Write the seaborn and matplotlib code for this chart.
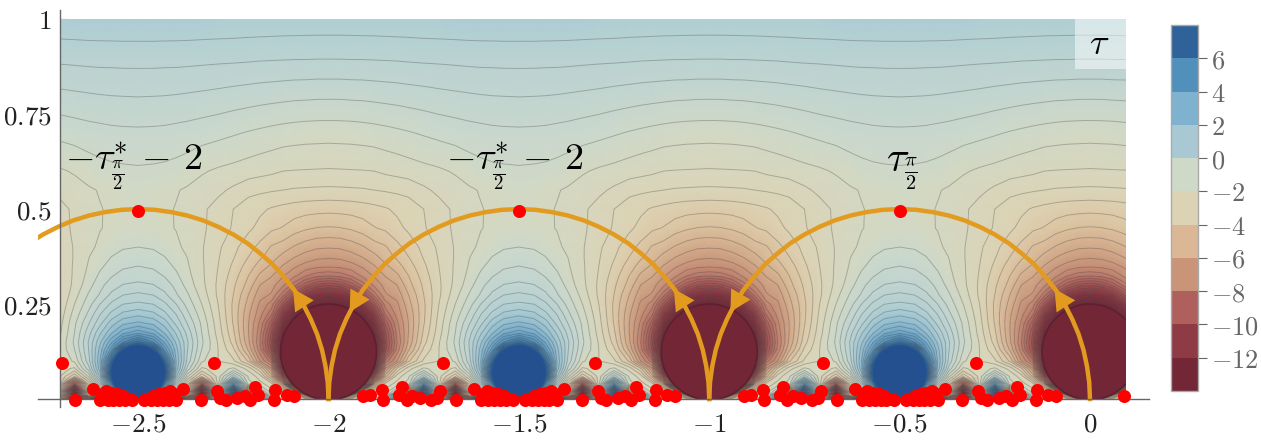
#!/usr/bin/env python3
"""Contour map of tau on the upper half plane, with the geodesic arcs and the red points."""

import numpy as np
import matplotlib
matplotlib.use('Agg')
import matplotlib.pyplot as plt
from matplotlib.colors import LinearSegmentedColormap, ListedColormap, BoundaryNorm, Normalize
from matplotlib.colorbar import ColorbarBase
from matplotlib.patches import Circle, Rectangle
import seaborn as sns

# field, one half period: columns are the distance to the nearest integer
dist_cols = [0, .03, .06, .09, .12, .15, .18, .21, .25, .29, .333, .37, .4, .43, .46, .5]
y_rows = [0, .01, .02, .04, .06, .08, .1, .13, .15, .175, .2, .225, .25, .275, .3, .325,
          .35, .375, .4, .45, .5, .55, .6, .7, .8, .9, 1]
field_rows = [
    [-14.5, -5, -3, -2, -2, -2, 5, -14, 9, -5, -14.5, -8, -14, -3, -2, 9],
    [-14.5, -14.5, -5.6, -2.1, -2, -1.9, 3, -9, 9, -3, -14.5, -3, -5, -1, 4, 9],
    [-14.5, -14.5, -14.5, -4.56, -2.1, -1.9, -.5, -5, 9, -1.7, -14.5, -2.1, -1.5, .68, 9, 9],
    [-14.5, -14.5, -14.5, -14.5, -4.98, -2.4, -1.93, -1.4, 4.25, -1.8, -8, -3, .1, 4.7, 9, 9],
    [-14.5, -14.5, -14.5, -14.5, -8.93, -4.3, -2.36, -1.7, .25, -1.89, -3.5, -1.48, 1.55, 8, 9, 9],
    [-14.5, -14.5, -14.5, -14.5, -12.4, -5.5, -3.5, -2.3, -1.5, -1.85, -2.2, -.3, 2.25, 8, 9, 9],
    [-14.5, -14.5, -14.5, -14.5, -14.5, -6.9, -5.6, -3.7, -2.5, -2.1, -1.5, .2, 2.4, 6.38, 9, 9],
    [-14.5, -14.5, -14.5, -14.5, -14.5, -8.7, -6.4, -4.7, -3, -2.1, -1.1, .4, 2.1, 4.2, 8.5, 9],
    [-14.5, -14.5, -14.5, -14.5, -14.5, -8.9, -6.6, -5, -3.3, -2.15, -1, .45, 1.8, 3.3, 4.89, 6.2],
    [-14.5, -14.5, -14.5, -14.5, -12.73, -8.6, -6.4, -5.1, -3.5, -2.3, -1.1, .2, 1.3, 2.3, 3.19, 3.7],
    [-14.5, -14.5, -14.5, -14.5, -11.23, -7.9, -6.2, -5.1, -3.65, -2.4, -1.2, -.15, .75, 1.65, 2.24, 2.5],
    [-14.5, -14.5, -14.5, -12.36, -9.83, -6.9, -5.9, -5, -3.7, -2.5, -1.4, -.5, .35, 1, 1.49, 1.7],
    [-14, -13.4, -12.08, -10.36, -8.28, -6.3, -5.7, -4.8, -3.7, -2.6, -1.6, -.8, -.1, .5, .89, 1],
    [-11, -10.75, -9.93, -8.51, -6.83, -5.65, -5.4, -4.6, -3.6, -2.7, -1.8, -1.05, -.55, 0, .37, .5],
    [-9, -8.76, -7.94, -6.88, -5.98, -5.4, -5.1, -4.3, -3.5, -2.7, -1.95, -1.3, -.75, -.35, -.08, 0],
    [-7, -6.88, -6.53, -5.96, -5.53, -5.05, -4.7, -4.1, -3.35, -2.65, -2, -1.45, -1, -.65, -.39, -.3],
    [-6, -5.95, -5.78, -5.51, -5.13, -4.7, -4.3, -3.85, -3.2, -2.6, -2.02, -1.55, -1.2, -.9, -.7, -.6],
    [-5.5, -5.46, -5.3, -5.06, -4.75, -4.32, -4, -3.6, -3.05, -2.55, -2.05, -1.62, -1.36, -1.1, -.92, -.85],
    [-5.05, -5.02, -4.87, -4.65, -4.33, -4.15, -3.75, -3.4, -2.95, -2.5, -2.05, -1.72, -1.5, -1.3, -1.16, -1.1],
    [-4.15, -4.12, -4.02, -3.86, -3.63, -3.5, -3.25, -3, -2.65, -2.35, -2, -1.78, -1.62, -1.52, -1.45, -1.4],
    [-3.45, -3.43, -3.4, -3.33, -3.25, -3.15, -3, -2.85, -2.6, -2.3, -2, -1.77, -1.62, -1.54, -1.48, -1.45],
    [-2.7, -2.69, -2.67, -2.65, -2.6, -2.55, -2.5, -2.45, -2.2, -1.98, -1.78, -1.66, -1.57, -1.5, -1.42, -1.35],
    [-2.15, -2.14, -2.13, -2.12, -2.1, -2, -1.93, -1.85, -1.75, -1.67, -1.55, -1.38, -1.28, -1.22, -1.19, -1.17],
    [-1.4, -1.39, -1.38, -1.35, -1.31, -1.26, -1.2, -1.14, -1.05, -.96, -.88, -.81, -.77, -.73, -.71, -.7],
    [-.5, -.5, -.48, -.47, -.44, -.41, -.38, -.34, -.29, -.23, -.18, -.14, -.11, -.09, -.08, -.07],
    [.45, .45, .46, .46, .47, .48, .49, .51, .53, .54, .56, .58, .59, .59, .6, .6],
    [1.23, 1.23, 1.23, 1.24, 1.24, 1.25, 1.26, 1.26, 1.28, 1.29, 1.3, 1.31, 1.31, 1.32, 1.32, 1.32],
]

# the clipped discs at the cusps
red_disc_x = [-2, -1, 0]
red_disc_y = .124
red_disc_r = .126
blue_disc_x = [-2.5, -1.5, -.5]
blue_disc_y = .071
blue_disc_r = .073

# red points: distance to the nearest integer and height, repeated every period
dot_dist = [.09, .11, .14, .143, .185, .193, .205, .22, .24, .27, .285, .293, .3, .335, .382,
            .4, .405, .415, .42, .43, .435, .445, .45, .46, .465, .475, .484]
dot_y = [.008, .01, .025, -.003, .01, .032, -.002, .008, .003, -.003, .002, .02, .095, -.003, .027,
         -.003, .012, .02, -.003, .017, -.003, .012, -.003, .007, -.003, .001, -.003]
peak_x = [-2.5, -1.5, -.5]
peak_y = [.495, .495, .495]
dot_periods = [-3, -2, -1, 0]

# geodesic arc, relative to its centre
arc_dx = [.5, .498, .492, .483, .47, .453, .433, .41, .383, .354, .321, .287, .25, .211, .171, .129, .087, .044, 0,
          -.044, -.087, -.129, -.171, -.211, -.25, -.287, -.321, -.354, -.383, -.41, -.433, -.453, -.47, -.483, -.492, -.498, -.5]
arc_y = [0, .044, .087, .129, .171, .211, .25, .287, .321, .354, .383, .41, .433, .453, .47, .483, .492, .498, .5,
         .498, .492, .483, .47, .453, .433, .41, .383, .354, .321, .287, .25, .211, .171, .129, .087, .044, 0]
arc_centres = [-.5, -1.5, -2.5]
up_arrow_cusps = [0, -1, -2]
down_arrow_cusps = [-1, -2]

x_ticks = [-2.5, -2, -1.5, -1, -.5, 0]
x_labels = ['$-2.5$', '$-2$', '$-1.5$', '$-1$', '$-0.5$', '$0$']
y_ticks = [.25, .5, .75, 1]
y_labels = ['$0.25$', '$0.5$', '$0.75$', '$1$']
cbar_ticks = [6, 4, 2, 0, -2, -4, -6, -8, -10, -12]
cbar_bounds = [-14, -12, -10, -8, -6, -4, -2, 0, 2, 4, 6, 8]
band_colors = ['#722636', '#8e3b45', '#b0605c', '#c99478', '#dbb795', '#dcd3b5',
               '#cfd9c8', '#a8c8d4', '#7eb2cf', '#5090bb', '#2e6299']

# colour of the smooth field at some values
field_values = [-14, -12, -10, -9, -8, -7, -6, -5, -4, -3, -1.5, -1, 0, 1.25, 3, 5, 7, 8]
field_colors = ['#722636', '#7c2d3c', '#8e3b45', '#9c4f50', '#ab5f5b', '#b9756a', '#c58f76', '#d2aa8a',
                '#dcc3a0', '#dcd3b5', '#d4d8c2', '#cbd8cc', '#c0d4d0', '#b0cfd3', '#7eb2cf', '#5090bb',
                '#2e6299', '#2a5a94']

FIELD_XMIN, FIELD_XMAX = -2.705, .095
ORANGE = '#e29b1f'
AXIS_GRAY = '#666666'

sns.set_theme(style='ticks')
plt.rcParams['mathtext.fontset'] = 'cm'

fig = plt.figure(figsize=(12.61, 4.48), dpi=100)
ax = fig.add_axes([38 / 1261, 41 / 448, 1111 / 1261, 397 / 448])
ax.set_xlim(-2.763, .155)
ax.set_ylim(-.021, 1.024)

# tile the half period table over the whole range
half = np.array(field_rows, dtype=float)
period = np.hstack([half, half[:, -2:0:-1]])
dist = np.array(dist_cols)
period_x = np.concatenate([dist, 1 - dist[-2:0:-1]])
full_x = np.concatenate([n + period_x for n in range(-3, 1)] + [[1.0]])
full_z = np.hstack([period] * 4 + [half[:, :1]])
X, Y = np.meshgrid(full_x, y_rows)

cmap_nodes = [(v + 14) / 22 for v in field_values]
field_cmap = LinearSegmentedColormap.from_list('tau', list(zip(cmap_nodes, field_colors)))
field_norm = Normalize(-14, 8)

clip_box = Rectangle((FIELD_XMIN, 0), FIELD_XMAX - FIELD_XMIN, 1, transform=ax.transData)

mesh = ax.pcolormesh(X, Y, full_z, shading='gouraud', cmap=field_cmap, norm=field_norm, zorder=1)
mesh.set_clip_path(clip_box)
lines = ax.contour(X, Y, full_z, levels=np.arange(-14.1, 8, .5), colors='#444444',
                   linestyles='solid', linewidths=.7, alpha=.32, zorder=2)
lines.set_clip_path(clip_box)

for cx in red_disc_x:
    disc = Circle((cx, red_disc_y), red_disc_r, facecolor='#722636', edgecolor='#5d2031',
                  linewidth=1.2, zorder=3)
    ax.add_patch(disc)
    disc.set_clip_path(clip_box)
for cx in blue_disc_x:
    disc = Circle((cx, blue_disc_y), blue_disc_r, facecolor='#24508f', edgecolor='#2b5f92',
                  linewidth=1.2, zorder=3)
    ax.add_patch(disc)
    disc.set_clip_path(clip_box)

# arcs and arrow heads
for centre in arc_centres:
    sns.lineplot(x=np.array(arc_dx) + centre, y=arc_y, sort=False, estimator=None, color=ORANGE,
                 linewidth=3.2, solid_capstyle='projecting', ax=ax, zorder=4)

head = '-|>,head_length=15,head_width=8'
for cusp in up_arrow_cusps:
    ax.annotate('', xy=(cusp - .093, .29), xytext=(cusp - .064, .245), zorder=5,
                arrowprops=dict(arrowstyle=head, color=ORANGE, lw=0, shrinkA=0, shrinkB=0, mutation_scale=1))
for cusp in down_arrow_cusps:
    ax.annotate('', xy=(cusp + .0555, .229), xytext=(cusp + .078, .268), zorder=5,
                arrowprops=dict(arrowstyle=head, color=ORANGE, lw=0, shrinkA=0, shrinkB=0, mutation_scale=1))

# red points
all_x, all_y = list(peak_x), list(peak_y)
for n in dot_periods:
    for d, h in zip(dot_dist, dot_y):
        for px in (n + d, n + 1 - d):
            if FIELD_XMIN + .005 <= px <= FIELD_XMAX:
                all_x.append(px)
                all_y.append(h)
sns.scatterplot(x=all_x, y=all_y, color='#ff0000', s=88, linewidth=0, ax=ax, zorder=6, clip_on=False)

# labels on the map
ax.text(-2.51, .612, r'$-\tau_{\frac{\pi}{2}}^{*}\,-\,2$', fontsize=27.5, ha='center', va='center', color='black', zorder=7)
ax.text(-1.51, .612, r'$-\tau_{\frac{\pi}{2}}^{*}\,-\,2$', fontsize=27.5, ha='center', va='center', color='black', zorder=7)
ax.text(-.495, .6, r'$\tau_{\frac{\pi}{2}}$', fontsize=30, ha='center', va='center', color='black', zorder=7)
ax.add_patch(Rectangle((-.039, .868), .134, .132, facecolor='white', alpha=.5, edgecolor='none', zorder=6))
ax.text(.024, .935, r'$\tau$', fontsize=26, ha='center', va='center', color='black', zorder=7)

# axes
sns.despine(ax=ax)
ax.spines['left'].set_position(('data', FIELD_XMIN))
ax.spines['bottom'].set_position(('data', 0))
for side in ('left', 'bottom'):
    ax.spines[side].set_color(AXIS_GRAY)
    ax.spines[side].set_linewidth(1)
ax.set_xticks(x_ticks, x_labels)
ax.set_yticks(y_ticks, y_labels)
ax.tick_params(axis='both', direction='in', length=5.5, width=.8, color=AXIS_GRAY,
               labelsize=19.5, labelcolor='#222222')
ax.tick_params(axis='x', pad=9)
ax.tick_params(axis='y', pad=6)
ax.patch.set_visible(False)
for artist in ax.spines.values():
    artist.set_zorder(5)

# colour bar
cax = fig.add_axes([1171 / 1261, (448 - 391) / 448, 27 / 1261, 366 / 448])
cb = ColorbarBase(cax, cmap=ListedColormap(band_colors), norm=BoundaryNorm(cbar_bounds, 11),
                  ticks=cbar_ticks, spacing='proportional', drawedges=False)
cb.ax.set_yticklabels([f'${t}$' for t in cbar_ticks])
cb.outline.set_edgecolor('#aaaaaa')
cb.outline.set_linewidth(1)
cb.ax.tick_params(length=6.5, width=.8, color=AXIS_GRAY, labelsize=19, labelcolor=AXIS_GRAY, pad=3)
cb.ax.minorticks_off()

fig.savefig('out.png', dpi=100)
